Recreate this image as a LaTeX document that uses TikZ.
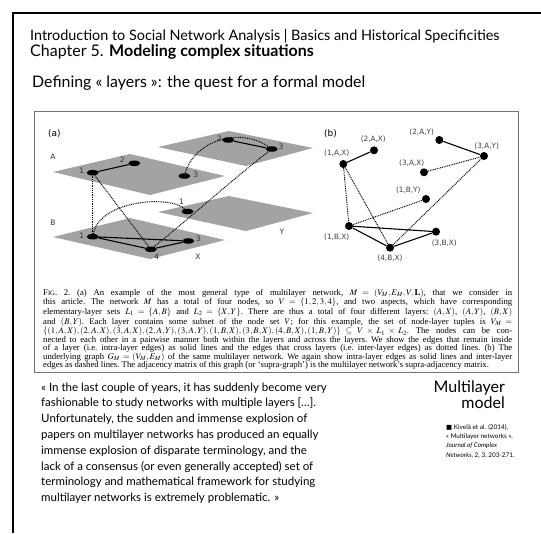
\documentclass[tikz,border=0pt]{standalone}
\usepackage{amsmath}
\usepackage{mathptmx}
\usepackage{fontspec}
\setmainfont{Liberation Serif}
\newfontfamily\slidefont{Lato}
\newfontfamily\figfont{DejaVu Sans}
\usetikzlibrary{shapes.geometric}

\begin{document}
\begin{tikzpicture}[x=1pt, y=-1pt,
  plane/.style={fill=black!36},
  lnode/.style={ellipse, fill=black, inner sep=0pt, minimum width=12pt, minimum height=5.5pt},
  gnode/.style={circle, fill=black, inner sep=0pt, minimum size=8pt},
  intra/.style={line width=1.1pt},
  inter/.style={line width=1pt, dash pattern=on 0.9pt off 0.9pt},
  num/.style={font=\figfont\fontsize{7.5}{7.5}\selectfont, text=black!80, inner sep=0pt},
  tup/.style={font=\figfont\fontsize{7.3}{7.3}\selectfont, text=black!75, inner sep=0pt},
  slide/.style={font=\slidefont, inner sep=0pt}]
  \useasboundingbox (0,0) rectangle (541,533);
  \fill[white] (0,0) rectangle (541,533);

  % slide frame
  \draw[line width=2pt] (541,13) -- (13,13) -- (13,533);

  % titles
  \node[slide, anchor=base west, font=\slidefont\fontsize{14.4}{14.4}\selectfont] (course) at (30,40.3)
    {Introduction to Social Network Analysis | Basics and Historical Specificities};
  \node[slide, anchor=base west, font=\slidefont\fontsize{16}{16}\selectfont] (chapter) at (30,56)
    {Chapter 5. \textbf{Modeling complex situations}};
  \node[slide, anchor=base west, font=\slidefont\fontsize{15.9}{15.9}\selectfont] (title) at (32,87.5)
    {Defining « layers »: the quest for a formal model};

  % figure box
  \draw[black!55, line width=0.8pt] (34,111) rectangle (518,372);
  \node[anchor=base west, font=\figfont\fontsize{9}{9}\selectfont, inner sep=0pt] (pa) at (48,136) {(a)};
  \node[anchor=base west, font=\figfont\fontsize{9}{9}\selectfont, inner sep=0pt] (pb) at (324,136) {(b)};

  % layers of (a)
  \fill[plane] (53,172) -- (130,154) -- (225,176) -- (150,195) -- cycle;
  \fill[plane] (53,237) -- (130,218) -- (225,240) -- (150,259) -- cycle;
  \fill[plane] (158,147) -- (229,131) -- (313,148) -- (246,166) -- cycle;
  \fill[plane] (158,212) -- (229,196) -- (313,213) -- (246,231) -- cycle;
  \node[num] (la) at (53,157) {A};
  \node[num] (lb) at (53,223) {B};
  \node[num] (lx) at (198,257) {X};
  \node[num] (ly) at (282,232) {Y};

  % nodes of (a)
  \node[lnode] (ax1) at (92.7,172.7) {};
  \node[lnode] (ax2) at (134.3,163.3) {};
  \node[lnode] (ax3) at (184.3,176) {};
  \node[lnode] (ay2) at (228.3,140) {};
  \node[lnode] (ay3) at (271.7,149) {};
  \node[lnode] (bx1) at (92.7,236.7) {};
  \node[lnode] (bx3) at (188.3,241) {};
  \node[lnode] (bx4) at (150.7,249.3) {};
  \node[lnode] (by1) at (187.5,211.5) {};
  \node[num] (ax1l) at (81.7,171) {1};
  \node[num] (ax2l) at (122.3,159.3) {2};
  \node[num] (ax3l) at (195.7,174.3) {3};
  \node[num] (ay2l) at (219.3,138.3) {2};
  \node[num] (ay3l) at (281,146.7) {3};
  \node[num] (bx1l) at (81.7,236) {1};
  \node[num] (bx3l) at (198.3,238.3) {3};
  \node[num] (bx4l) at (156.7,256.7) {4};
  \node[num] (by1l) at (181.5,201.7) {1};

  % edges of (a)
  \draw[intra] (ax1) -- (ax2);
  \draw[intra] (ay2) -- (ay3);
  \draw[intra] (bx1) -- (bx3) -- (bx4) -- (bx1);
  \draw[inter] (ax1) -- (bx1);
  \draw[inter] (ax1) -- (bx4);
  \draw[inter] (ax3) .. controls (195,140) and (240,127) .. (ay3);
  \draw[inter] (bx1) .. controls (100,200) and (170,195) .. (by1);
  \draw[inter] (bx4) .. controls (185,222) and (232,180) .. (ay3);

  % nodes of (b)
  \node[gnode] (n1ax) at (343.3,164) {};
  \node[gnode] (n2ax) at (374,150.3) {};
  \node[gnode] (n2ay) at (439.3,140) {};
  \node[gnode] (n3ay) at (484,156) {};
  \node[gnode] (n3ax) at (424,172.3) {};
  \node[gnode] (n1by) at (426,199) {};
  \node[gnode] (n1bx) at (349,226) {};
  \node[gnode] (n3bx) at (436,231.7) {};
  \node[gnode] (n4bx) at (390,247.7) {};
  \node[tup] (t1ax) at (336.7,153.3) {(1,A,X)};
  \node[tup] (t2ax) at (373.3,139.3) {(2,A,X)};
  \node[tup] (t2ay) at (421.7,132.7) {(2,A,Y)};
  \node[tup] (t3ay) at (486.7,146) {(3,A,Y)};
  \node[tup] (t3ax) at (411.7,163.3) {(3,A,X)};
  \node[tup] (t1by) at (408.3,190) {(1,B,Y)};
  \node[tup] (t1bx) at (336.7,237.3) {(1,B,X)};
  \node[tup] (t3bx) at (444.3,243.3) {(3,B,X)};
  \node[tup] (t4bx) at (390,258.3) {(4,B,X)};

  % edges of (b)
  \draw[intra] (n1ax) -- (n2ax);
  \draw[intra] (n2ay) -- (n3ay);
  \draw[intra] (n1bx) -- (n3bx) -- (n4bx) -- (n1bx);
  \draw[inter] (n3ax) -- (n3ay);
  \draw[inter] (n1ax) -- (n1bx);
  \draw[inter] (n1ax) -- (n4bx);
  \draw[inter] (n1bx) -- (n1by);
  \draw[inter] (n4bx) -- (n3ay);

  % caption
  \node[anchor=north west, inner sep=0pt, text width=469pt, align=justify,
        font=\fontsize{8.7}{8.5}\selectfont] (caption) at (43,288.5) {\parfillskip=0pt\lineskiplimit=-6pt\frenchspacing
    F{\fontsize{6.6}{5}\selectfont IG}. 2. (a) An example of the most general type of multilayer network, $M=(V_M,E_M,V,\mathbf{L})$, that we consider in\linebreak
    this article. The network $M$ has a total of four nodes, so $V=\{1,2,3,4\}$, and two aspects, which have corresponding\linebreak
    elementary-layer sets $L_1=\{A,B\}$ and $L_2=\{X,Y\}$. There are thus a total of four different layers: $(A,X)$, $(A,Y)$, $(B,X)$\linebreak
    and $(B,Y)$. Each layer contains some subset of the node set $V$; for this example, the set of node-layer tuples is $V_M=$\linebreak
    $\{(1,A,X),(2,A,X),(3,A,X),(2,A,Y),(3,A,Y),(1,B,X),(3,B,X),(4,B,X),(1,B,Y)\}\subseteq V\times L_1\times L_2$. The nodes can be con-\linebreak
    nected to each other in a pairwise manner both within the layers and across the layers. We show the edges that remain inside\linebreak
    of a layer (i.e. intra-layer edges) as solid lines and the edges that cross layers (i.e. inter-layer edges) as dotted lines. (b) The\linebreak
    underlying graph $G_M=(V_M,E_M)$ of the same multilayer network. We again show intra-layer edges as solid lines and inter-layer\linebreak
    edges as dashed lines. The adjacency matrix of this graph (or `supra-graph') is the multilayer network's supra-adjacency matrix.};

  % quote
  \node[slide, anchor=north west, align=left, font=\slidefont\fontsize{11.5}{15.8}\selectfont] (quote) at (41,382.5)
    {« In the last couple of years, it has suddenly become very\\
     fashionable to study networks with multiple layers [\dots].\\
     Unfortunately, the sudden and immense explosion of\\
     papers on multilayer networks has produced an equally\\
     immense explosion of disparate terminology, and the\\
     lack of a consensus (or even generally accepted) set of\\
     terminology and mathematical framework for studying\\
     multilayer networks is extremely problematic. »};

  % side notes
  \node[slide, anchor=north east, align=right, font=\slidefont\fontsize{16}{16}\selectfont] (model) at (505,381)
    {Multilayer\\model};
  \node[slide, anchor=north west, align=left, font=\slidefont\fontsize{6.4}{9.3}\selectfont] (ref) at (446,424)
    {{\figfont ■} Kivelä et al. (2014),\\
     « Multilayer networks »,\\
     \textit{Journal of Complex}\\
     \textit{Networks}, 2, 3, 203-271.};
\end{tikzpicture}
\end{document}
